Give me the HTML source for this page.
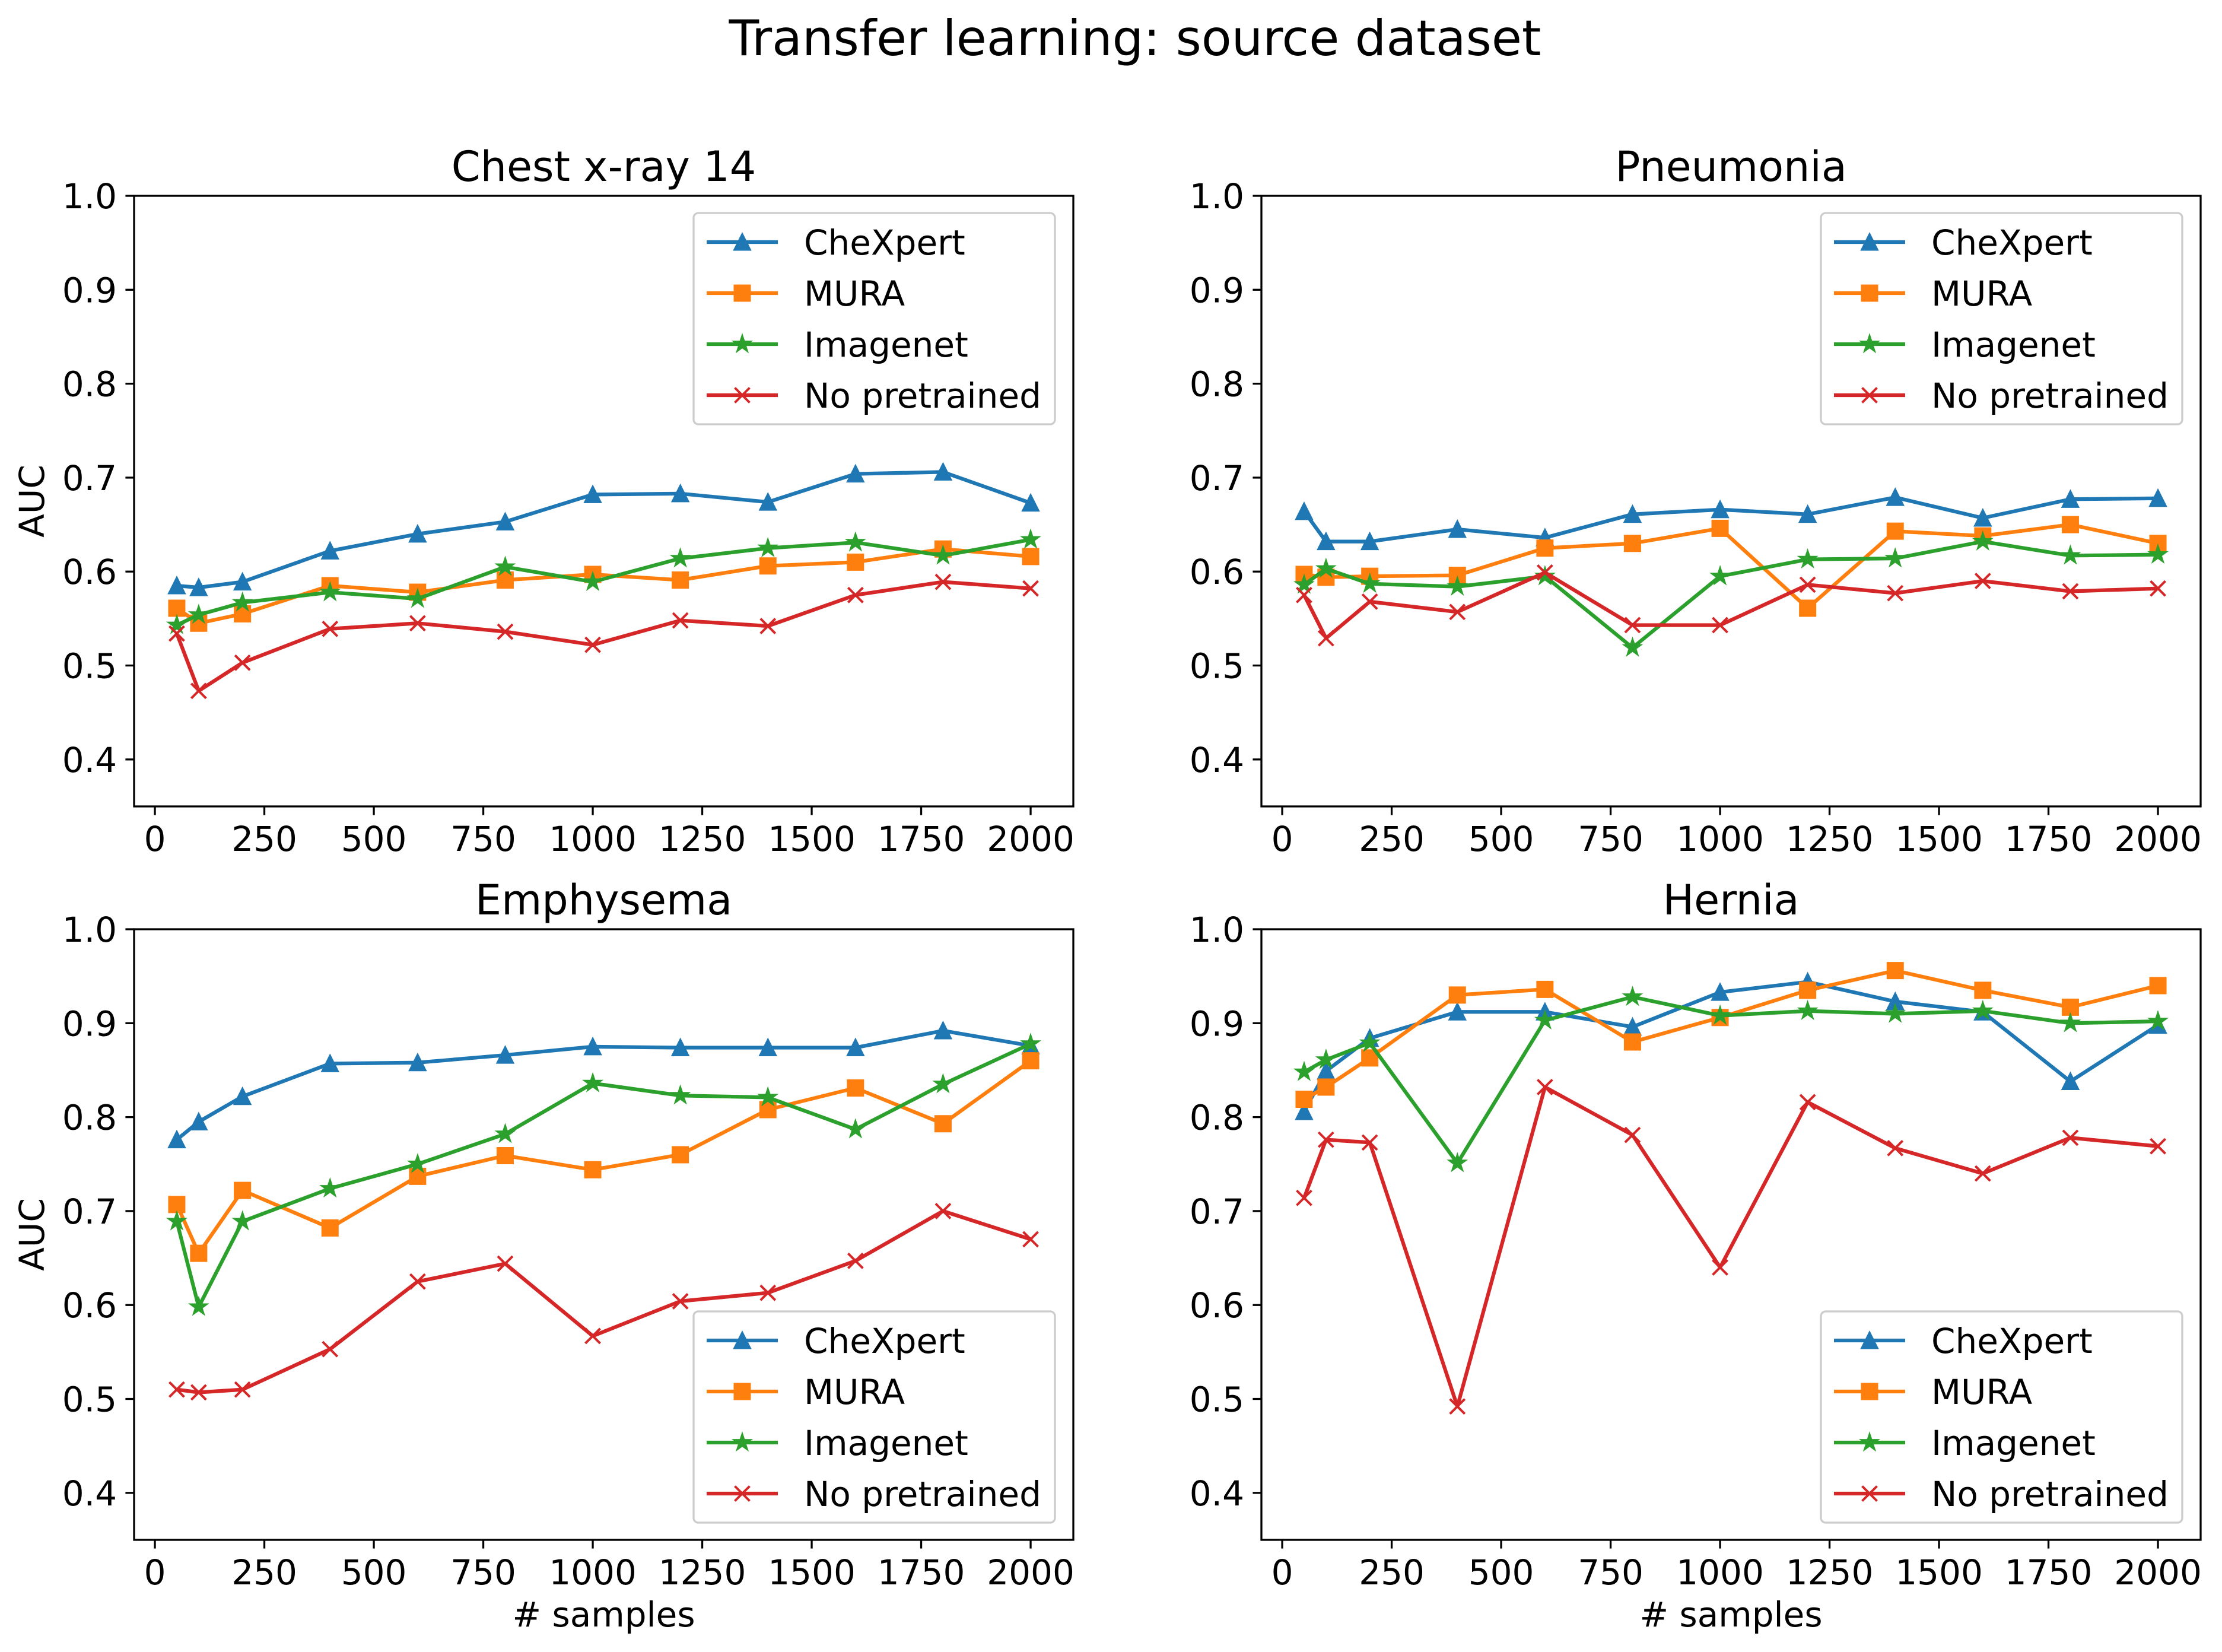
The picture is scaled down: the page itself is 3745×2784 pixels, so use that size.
<!DOCTYPE html>
<html><head><meta charset="utf-8"><style>
html,body{margin:0;padding:0;background:#fff}
svg{display:block;font-family:"DejaVu Sans","Liberation Sans",sans-serif}
</style></head><body>
<svg id="fig" xmlns="http://www.w3.org/2000/svg" width="3745" height="2784" viewBox="0 0 3745 2784">
<rect width="3745" height="2784" fill="#fff"/>
<text x="1913" y="93" font-size="83" text-anchor="middle">Transfer learning: source dataset</text>
</svg>
<script>
const xSamples = [50,100,200,400,600,800,1000,1200,1400,1600,1800,2000];
const seriesNames = ["CheXpert","MURA","Imagenet","No pretrained"];
const xTicks = [0,250,500,750,1000,1250,1500,1750,2000];
const yTicks = [0.4,0.5,0.6,0.7,0.8,0.9,1.0];
const panelTitles = ["Chest x-ray 14","Pneumonia","Emphysema","Hernia"];
const chestChexpert = [0.585,0.583,0.589,0.622,0.640,0.653,0.682,0.683,0.674,0.704,0.706,0.673];
const chestMura = [0.561,0.545,0.555,0.585,0.578,0.591,0.597,0.591,0.606,0.610,0.624,0.616];
const chestImagenet = [0.543,0.554,0.567,0.578,0.571,0.605,0.589,0.614,0.625,0.631,0.617,0.634];
const chestNoPre = [0.534,0.473,0.503,0.539,0.545,0.536,0.522,0.548,0.542,0.575,0.589,0.582];
const pneuChexpert = [0.664,0.632,0.632,0.645,0.636,0.661,0.666,0.661,0.679,0.657,0.677,0.678];
const pneuMura = [0.597,0.594,0.595,0.596,0.625,0.630,0.646,0.561,0.643,0.638,0.650,0.630];
const pneuImagenet = [0.586,0.603,0.587,0.584,0.595,0.519,0.595,0.613,0.614,0.632,0.617,0.618];
const pneuNoPre = [0.575,0.529,0.568,0.557,0.599,0.543,0.543,0.586,0.577,0.590,0.579,0.582];
const emphChexpert = [0.776,0.795,0.822,0.857,0.858,0.866,0.875,0.874,0.874,0.874,0.892,0.876];
const emphMura = [0.707,0.655,0.722,0.682,0.737,0.759,0.744,0.760,0.808,0.831,0.793,0.860];
const emphImagenet = [0.689,0.598,0.689,0.724,0.750,0.782,0.836,0.823,0.821,0.787,0.835,0.878];
const emphNoPre = [0.510,0.507,0.510,0.553,0.625,0.644,0.567,0.604,0.613,0.647,0.700,0.670];
const herChexpert = [0.806,0.849,0.884,0.912,0.912,0.896,0.933,0.944,0.923,0.912,0.838,0.898];
const herMura = [0.819,0.832,0.863,0.930,0.936,0.880,0.906,0.935,0.956,0.935,0.917,0.940];
const herImagenet = [0.848,0.861,0.879,0.751,0.903,0.928,0.908,0.913,0.910,0.913,0.900,0.902];
const herNoPre = [0.714,0.776,0.773,0.492,0.832,0.781,0.640,0.816,0.767,0.740,0.778,0.769];

const NS="http://www.w3.org/2000/svg";
const svg=document.getElementById('fig');
const colors=["#1f77b4","#ff7f0e","#2ca02c","#d62728"];
const markers=["tri","sq","star","x"];
const panelData=[[chestChexpert,chestMura,chestImagenet,chestNoPre],[pneuChexpert,pneuMura,pneuImagenet,pneuNoPre],[emphChexpert,emphMura,emphImagenet,emphNoPre],[herChexpert,herMura,herImagenet,herNoPre]];
const boxes=[{l:226,t:330},{l:2126,t:330},{l:226,t:1566},{l:2126,t:1566}];
const W=1583,H=1029,XMIN=-47.5,XMAX=2097.5,YMIN=0.35,YMAX=1.0;
function mk(tag,attrs,parent){const e=document.createElementNS(NS,tag);for(const k in attrs)e.setAttribute(k,attrs[k]);(parent||svg).appendChild(e);return e;}
function markerPath(type,cx,cy){
  if(type==="tri"){const r=12.5;return `M${cx},${cy-r}L${cx-r},${cy+r}L${cx+r},${cy+r}Z`;}
  if(type==="sq"){const r=12.5;return `M${cx-r},${cy-r}h${2*r}v${2*r}h${-2*r}Z`;}
  if(type==="star"){let d="";for(let i=0;i<10;i++){const a=-Math.PI/2+i*Math.PI/5;const r=(i%2?0.382:1)*12.5;d+=(i?"L":"M")+(cx+r*Math.cos(a)).toFixed(1)+","+(cy+r*Math.sin(a)).toFixed(1);}return d+"Z";}
  const r=12.5;return `M${cx-r},${cy-r}L${cx+r},${cy+r}M${cx-r},${cy+r}L${cx+r},${cy-r}`;
}
function drawMarker(g,type,cx,cy,c){
  const p=mk('path',{d:markerPath(type,cx,cy),fill:type==="x"?"none":c,stroke:c,'stroke-width':4,'stroke-linejoin':'miter'},g);
  
  
}
panelData.forEach((series,pi)=>{
  const b=boxes[pi];
  const sx=v=>b.l+(v-XMIN)/(XMAX-XMIN)*W;
  const sy=v=>b.t+H-(v-YMIN)/(YMAX-YMIN)*H;
  const g=mk('g',{});
  
  
  const t=mk('text',{x:b.l+W/2,y:b.t-25,'font-size':70,'text-anchor':'middle'},g);t.textContent=panelTitles[pi];
  
  
  xTicks.forEach(v=>{
    const x=sx(v);
    const tk=mk('line',{x1:x,x2:x,y1:b.t+H,y2:b.t+H+14.6,stroke:'#000','stroke-width':3.3},g);
    
    
    const tl=mk('text',{x:x,y:b.t+H+75,'font-size':58,'text-anchor':'middle'},g);tl.textContent=String(v);
    
    
  });
  yTicks.forEach(v=>{
    const y=sy(v);
    const tk=mk('line',{x1:b.l-14.6,x2:b.l,y1:y,y2:y,stroke:'#000','stroke-width':3.3},g);
    
    
    const tl=mk('text',{x:b.l-29,y:y+21,'font-size':58,'text-anchor':'end'},g);tl.textContent=v.toFixed(1);
    
    
  });
  if(pi%2===0){
    const yl=mk('text',{x:0,y:0,'font-size':58,'text-anchor':'middle',transform:`translate(74,${b.t+H/2}) rotate(-90)`},g);yl.textContent='AUC';
    
    
  }
  if(pi>=2){
    const xl=mk('text',{x:b.l+W/2,y:2741,'font-size':58,'text-anchor':'middle'},g);xl.textContent='# samples';
    
    
  }
  series.forEach((vals,si)=>{
    const pts=vals.map((v,i)=>sx(xSamples[i]).toFixed(1)+","+sy(v).toFixed(1)).join(" ");
    const pl=mk('polyline',{points:pts,fill:'none',stroke:colors[si],'stroke-width':6.25,'stroke-linejoin':'round','stroke-linecap':'square'},g);
    
    
    vals.forEach((v,i)=>drawMarker(g,markers[si],sx(xSamples[i]),sy(v),colors[si]));
  });
  const fr=mk('rect',{x:b.l,y:b.t,width:W,height:H,fill:'none',stroke:'#000','stroke-width':3.3},g);
  
  
  const lw=609,lh=356,lx=b.l+W-31-lw,ly=pi<2?b.t+29:b.t+H-29-lh;
  const lg=mk('g',{},g);
  
  
  mk('rect',{x:lx,y:ly,width:lw,height:lh,rx:8,fill:'#fff','fill-opacity':0.8,stroke:'#cccccc','stroke-width':3.3},lg);
  seriesNames.forEan=null;
  seriesNames.forEach((n,si)=>{
    const ry=ly+49+si*86;
    const e=mk('g',{},lg);
    
    
    mk('line',{x1:lx+22,x2:lx+142,y1:ry,y2:ry,stroke:colors[si],'stroke-width':6.25},e);
    drawMarker(e,markers[si],lx+82,ry,colors[si]);
    const tx=mk('text',{x:lx+186,y:ry+21,'font-size':58},e);tx.textContent=n;
  });
});
</script>
</body></html>
